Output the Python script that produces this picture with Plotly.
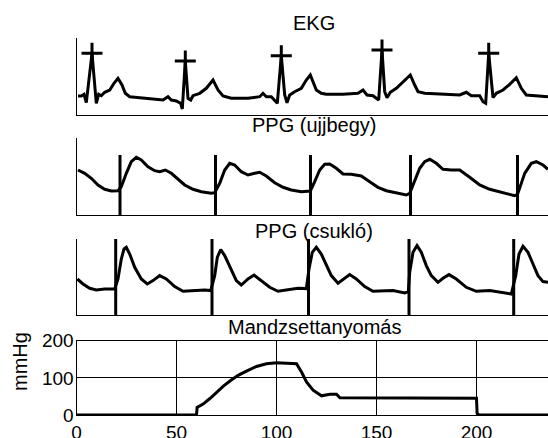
import plotly.graph_objects as go

# ---------------- data ----------------
# EKG: time in s, amplitude in arbitrary units
ekg_t = [0.015, 0.048, 0.075, 0.098, 0.155, 0.198, 0.222, 0.248, 0.282, 0.332, 0.375, 0.415, 0.455, 0.488,
         0.532, 0.632, 0.748, 0.865, 0.915, 0.948, 0.998, 1.042, 1.058, 1.088, 1.115, 1.142, 1.165, 1.232,
         1.298, 1.365, 1.415, 1.465, 1.548, 1.715, 1.832, 1.865, 1.898, 1.948, 2.008, 2.048, 2.082, 2.105,
         2.132, 2.182, 2.248, 2.298, 2.338, 2.398, 2.448, 2.498, 2.665, 2.815, 2.865, 2.905, 2.965, 2.998,
         3.022, 3.055, 3.082, 3.105, 3.138, 3.198, 3.265, 3.338, 3.382, 3.415, 3.482, 3.665, 3.832, 3.898,
         3.948, 4.032, 4.065, 4.092, 4.122, 4.165, 4.198, 4.265, 4.332, 4.398, 4.448, 4.498, 4.598, 4.715]
ekg_v = [19, 19, 20.7, 12.3, 61.7, 11.7, 20.7, 19.3, 22.7, 25, 31.7, 36.7, 30, 21.7,
         18.3, 17.3, 16, 15, 18.3, 15, 14, 11.7, 6, 54, 16.7, 15, 19.3, 21.7,
         26.7, 35, 25, 19, 16.7, 16.7, 18.3, 21.7, 18.3, 18.3, 11.7, 59.3, 20, 12.3,
         20, 23.3, 26.7, 35, 40, 25, 21.7, 20.7, 20.7, 21.7, 25, 20, 19.3, 16.7,
         15, 65, 23.3, 17.3, 22.7, 26.7, 33.3, 40, 30, 23.3, 21.7, 20.7, 20, 22.7,
         19.3, 19.3, 13.3, 11.7, 61.7, 17.3, 21.7, 25, 30.7, 37.3, 26.7, 20, 19, 18.3]
r_peak_t = [0.155, 1.088, 2.048, 3.055, 4.122]
r_peak_v = [61.7, 54, 59.3, 65, 61.7]

# PPG finger tip
finger_t = [0.015, 0.082, 0.148, 0.215, 0.282, 0.348, 0.415, 0.448, 0.498, 0.548, 0.598, 0.648, 0.715,
            0.782, 0.832, 0.888, 0.948, 1.015, 1.082, 1.165, 1.248, 1.348, 1.382, 1.432, 1.482, 1.532,
            1.582, 1.648, 1.715, 1.782, 1.832, 1.898, 1.982, 2.065, 2.148, 2.248, 2.338, 2.382, 2.432,
            2.482, 2.532, 2.598, 2.665, 2.748, 2.848, 2.932, 3.015, 3.098, 3.198, 3.298, 3.332, 3.382,
            3.432, 3.482, 3.532, 3.598, 3.665, 3.748, 3.832, 3.932, 4.032, 4.132, 4.265, 4.382, 4.41,
            4.432, 4.482, 4.548, 4.598, 4.665, 4.715]
finger_v = [45, 41.7, 36.7, 30, 25.7, 24, 24.3, 28.3, 41.7, 53.3, 57.7, 55, 48.3,
            44.3, 43.3, 45, 41.7, 35.7, 30, 25.7, 23.3, 21.7, 22.3, 31.7, 45, 51.7,
            50, 43.3, 40, 41.7, 42.7, 39, 32.3, 27.7, 25, 23.3, 24, 33.3, 45,
            50.7, 51, 46.7, 41, 40.7, 39, 33.3, 27.7, 24.3, 22.3, 20, 21.7, 33.3,
            46.7, 53.3, 55.7, 51.7, 45.7, 45, 45, 37.7, 30, 25.7, 22.3, 19.3, 20.5,
            26.7, 41.7, 51.7, 53.3, 50, 45.7]
finger_onsets = [0.435, 1.39, 2.34, 3.34, 4.41]
finger_marker_top = 60

# PPG wrist
wrist_t = [0.008, 0.065, 0.132, 0.198, 0.282, 0.382, 0.415, 0.448, 0.475, 0.498, 0.532, 0.582, 0.648,
           0.708, 0.765, 0.832, 0.898, 0.982, 1.065, 1.165, 1.282, 1.342, 1.382, 1.408, 1.442, 1.482,
           1.548, 1.598, 1.648, 1.715, 1.775, 1.848, 1.932, 2.015, 2.115, 2.215, 2.298, 2.325, 2.358,
           2.398, 2.448, 2.498, 2.548, 2.615, 2.682, 2.732, 2.798, 2.882, 2.965, 3.065, 3.165, 3.282,
           3.318, 3.332, 3.365, 3.405, 3.448, 3.498, 3.548, 3.615, 3.665, 3.725, 3.798, 3.898, 3.998,
           4.132, 4.265, 4.348, 4.392, 4.425, 4.465, 4.515, 4.565, 4.615, 4.665, 4.715]
wrist_v = [36.3, 31.3, 27, 25.3, 26.3, 26.3, 36.3, 56.3, 66.3, 68, 61.3, 48, 36.3,
           31.3, 34.7, 39.7, 36.3, 28.7, 24, 24.7, 25.3, 24.7, 39.7, 58, 65.7, 59.7,
           44.7, 34.7, 30.3, 36.3, 40.3, 34.7, 28, 24, 25.7, 27, 26.7, 46.3, 63,
           68, 61.3, 49.7, 39.7, 32, 37, 40.7, 36.3, 28.7, 24, 24.7, 24.7, 22.3,
           23.7, 43, 63, 69.7, 63, 49.7, 39.7, 33, 37, 40.7, 36.3, 28, 24,
           24.7, 23, 21.3, 39.7, 61.3, 69, 63, 51.3, 39.7, 33.7, 33]
wrist_onsets = [0.392, 1.355, 2.32, 3.325, 4.372]
wrist_marker_top = 76.3

# Cuff pressure
cuff_t = [0, 60, 60.3, 63.3, 66.7, 70, 73.3, 76.7, 80.8, 85, 90, 95, 100, 105, 110, 112.5, 115,
          118.3, 122.5, 126.7, 130, 131.7, 141.7, 158.3, 200, 200.3, 201.3, 236]
cuff_p = [0, 0, 20.5, 29.3, 44.4, 62.2, 77.3, 91.6, 106.7, 118.2, 130.7, 137.8, 140.4, 139.6, 137.8,
          115.6, 88.9, 66.7, 51.6, 56, 56, 46.2, 46.2, 45.3, 45.3, 4.4, 0, 0]
cuff_xticks = [0, 50, 100, 150, 200]
cuff_yticks = [0, 100, 200]

titles = ["EKG", "PPG (ujjbegy)", "PPG (csukló)", "Mandzsettanyomás"]
ylabel = "mmHg"

# ---------------- figure ----------------
W, H = 548, 438
FONT = "Liberation Sans, Arial, Helvetica, sans-serif"
LW = 3


def py(p):
    return 1 - p / H


fig = go.Figure()

fig.add_trace(go.Scatter(x=ekg_t, y=ekg_v, mode="lines", line=dict(color="black", width=LW),
                         xaxis="x", yaxis="y"))
fig.add_trace(go.Scatter(x=r_peak_t, y=r_peak_v, mode="markers",
                         marker=dict(symbol="cross-thin", size=15, line=dict(color="black", width=3)),
                         xaxis="x", yaxis="y", cliponaxis=False))


def vlines(ts, top):
    xs, ys = [], []
    for t in ts:
        xs += [t, t, None]
        ys += [0, top, None]
    return xs, ys


fx, fy = vlines(finger_onsets, finger_marker_top)
fig.add_trace(go.Scatter(x=fx, y=fy, mode="lines", line=dict(color="black", width=LW),
                         xaxis="x2", yaxis="y2"))
fig.add_trace(go.Scatter(x=finger_t, y=finger_v, mode="lines", line=dict(color="black", width=LW),
                         xaxis="x2", yaxis="y2"))

wx, wy = vlines(wrist_onsets, wrist_marker_top)
fig.add_trace(go.Scatter(x=wx, y=wy, mode="lines", line=dict(color="black", width=LW),
                         xaxis="x3", yaxis="y3"))
fig.add_trace(go.Scatter(x=wrist_t, y=wrist_v, mode="lines", line=dict(color="black", width=LW),
                         xaxis="x3", yaxis="y3"))

fig.add_trace(go.Scatter(x=cuff_t, y=cuff_p, mode="lines", line=dict(color="black", width=LW),
                         xaxis="x4", yaxis="y4"))

XDOM = [76.5 / W, 1]


def upper_x(anchor):
    return dict(domain=XDOM, range=[0, 4.715], anchor=anchor, showline=True, linecolor="black",
                linewidth=1, showgrid=False, zeroline=False, showticklabels=False, ticks="",
                automargin=False)


def upper_y(anchor, top_px, bot_px, rng):
    return dict(domain=[py(bot_px), py(top_px)], range=rng, anchor=anchor, showline=True,
                linecolor="black", linewidth=1, showgrid=False, zeroline=False,
                showticklabels=False, ticks="", automargin=False)


fig.update_layout(
    width=W, height=H, margin=dict(l=0, r=0, t=0, b=0, autoexpand=False),
    plot_bgcolor="white", paper_bgcolor="white", showlegend=False,
    font=dict(family=FONT, color="black", size=19),
    xaxis=upper_x("y"), yaxis=upper_y("x", 38, 115, [0, 77]),
    xaxis2=upper_x("y2"), yaxis2=upper_y("x2", 138, 215, [0, 77]),
    xaxis3=upper_x("y3"), yaxis3=upper_y("x3", 239, 315.3, [0, 76.3]),
    xaxis4=dict(domain=XDOM, range=[0, (W - 76.5) / 2], anchor="y4", showline=True, mirror=True,
                linecolor="black", linewidth=1, showgrid=True, gridcolor="black", gridwidth=1,
                zeroline=False, tickvals=cuff_xticks, ticks="", tickfont=dict(size=19, family=FONT),
                automargin=False),
    yaxis4=dict(domain=[py(415), py(340.7)], range=[0, 200], anchor="x4", showline=True,
                linecolor="black", linewidth=1, showgrid=True, gridcolor="black", gridwidth=1,
                zeroline=False, tickvals=cuff_yticks, ticks="", tickfont=dict(size=19, family=FONT),
                ticklabelstandoff=-2, automargin=False),
)

title_y_px = [22.7, 124.7, 231.3, 327]
for txt, ypx in zip(titles, title_y_px):
    fig.add_annotation(text=txt, xref="paper", yref="paper", x=314 / W, y=py(ypx),
                       xanchor="center", yanchor="middle", showarrow=False,
                       font=dict(family=FONT, size=20, color="black"))

fig.add_annotation(text=ylabel, xref="paper", yref="paper", x=20 / W, y=py(362),
                   xanchor="center", yanchor="middle", textangle=-90, showarrow=False,
                   font=dict(family=FONT, size=20, color="black"))

fig.write_html("out.html", config={"displayModeBar": False},
               post_script="document.body.style.margin='0px';")
